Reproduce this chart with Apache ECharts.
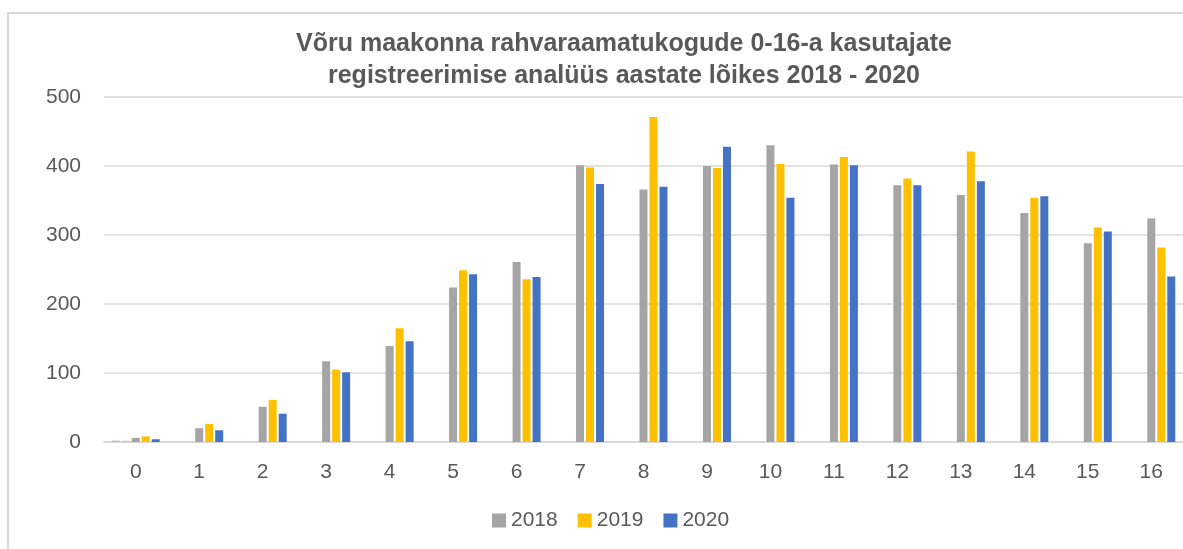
<!DOCTYPE html>
<html>
<head>
<meta charset="utf-8">
<script src="https://cdn.jsdelivr.net/npm/echarts@6/dist/echarts.min.js"></script>
<style>
  html, body { margin: 0; padding: 0; background: #fff; }
  #chart { width: 1183px; height: 549px; }
</style>
</head>
<body>
<div id="chart"></div>
<script>
const ages = ['0', '1', '2', '3', '4', '5', '6', '7', '8', '9', '10', '11', '12', '13', '14', '15', '16']
const yTicks = [0, 100, 200, 300, 400, 500]

// two hidden series only show a sliver at age 0
const hiddenA = [2, 0, 0, 0, 0, 0, 0, 0, 0, 0, 0, 0, 0, 0, 0, 0, 0]
const hiddenB = [2, 0, 0, 0, 0, 0, 0, 0, 0, 0, 0, 0, 0, 0, 0, 0, 0]
const y2018 = [6, 20, 51, 117, 139, 224, 261, 401, 366, 400, 430, 402, 372, 358, 332, 288, 324]
const y2019 = [8, 26, 61, 105, 165, 249, 236, 398, 471, 397, 403, 413, 382, 421, 354, 311, 282]
const y2020 = [4, 17, 41, 101, 146, 243, 239, 374, 370, 428, 354, 401, 372, 378, 356, 305, 240]

const textColor = '#595959'
const font = 'Liberation Sans'

const bar = (name, data, color) => ({
	name,
	type: 'bar',
	data,
	barWidth: 8,
	barGap: '25%',
	itemStyle: { color },
})

const chart = echarts.init(document.getElementById('chart'), null, { renderer: 'canvas' })
chart.setOption({
	animation: false,
	backgroundColor: '#fff',
	graphic: [
		{
			type: 'rect',
			shape: { x: 8, y: 13, width: 1300, height: 700 },
			style: { fill: 'none', stroke: '#d9d9d9', lineWidth: 2 },
			silent: true,
		},
	],
	title: {
		text: 'Võru maakonna rahvaraamatukogude 0-16-a kasutajate\nregistreerimise analüüs aastate lõikes 2018 - 2020',
		left: 619,
		textAlign: 'center',
		top: 23,
		textStyle: {
			fontFamily: font,
			fontSize: 25,
			fontWeight: 'bold',
			color: textColor,
			lineHeight: 32,
		},
	},
	legend: {
		bottom: 13,
		left: 487,
		itemWidth: 14,
		itemHeight: 14,
		itemGap: 20,
		icon: 'rect',
		data: ['2018', '2019', '2020'],
		textStyle: { fontFamily: font, fontSize: 21, color: textColor },
	},
	grid: { left: 104, top: 97, width: 1082, height: 345 },
	xAxis: {
		type: 'category',
		data: ages,
		axisLine: { lineStyle: { color: '#d9d9d9', width: 2 } },
		axisTick: { show: false },
		axisLabel: { fontFamily: font, fontSize: 21, color: textColor, margin: 20 },
	},
	yAxis: {
		type: 'value',
		min: yTicks[0],
		max: yTicks[yTicks.length - 1],
		interval: 100,
		axisLine: { show: false },
		axisTick: { show: false },
		splitLine: { lineStyle: { color: '#d9d9d9', width: 1.5 } },
		axisLabel: { fontFamily: font, fontSize: 21, color: textColor, margin: 23 },
	},
	series: [
		bar('a', hiddenA, '#a9bfe6'),
		bar('b', hiddenB, '#e8c4ad'),
		bar('2018', y2018, '#A5A5A5'),
		bar('2019', y2019, '#FFC000'),
		bar('2020', y2020, '#4472C4'),
	],
})
</script>
</body>
</html>
